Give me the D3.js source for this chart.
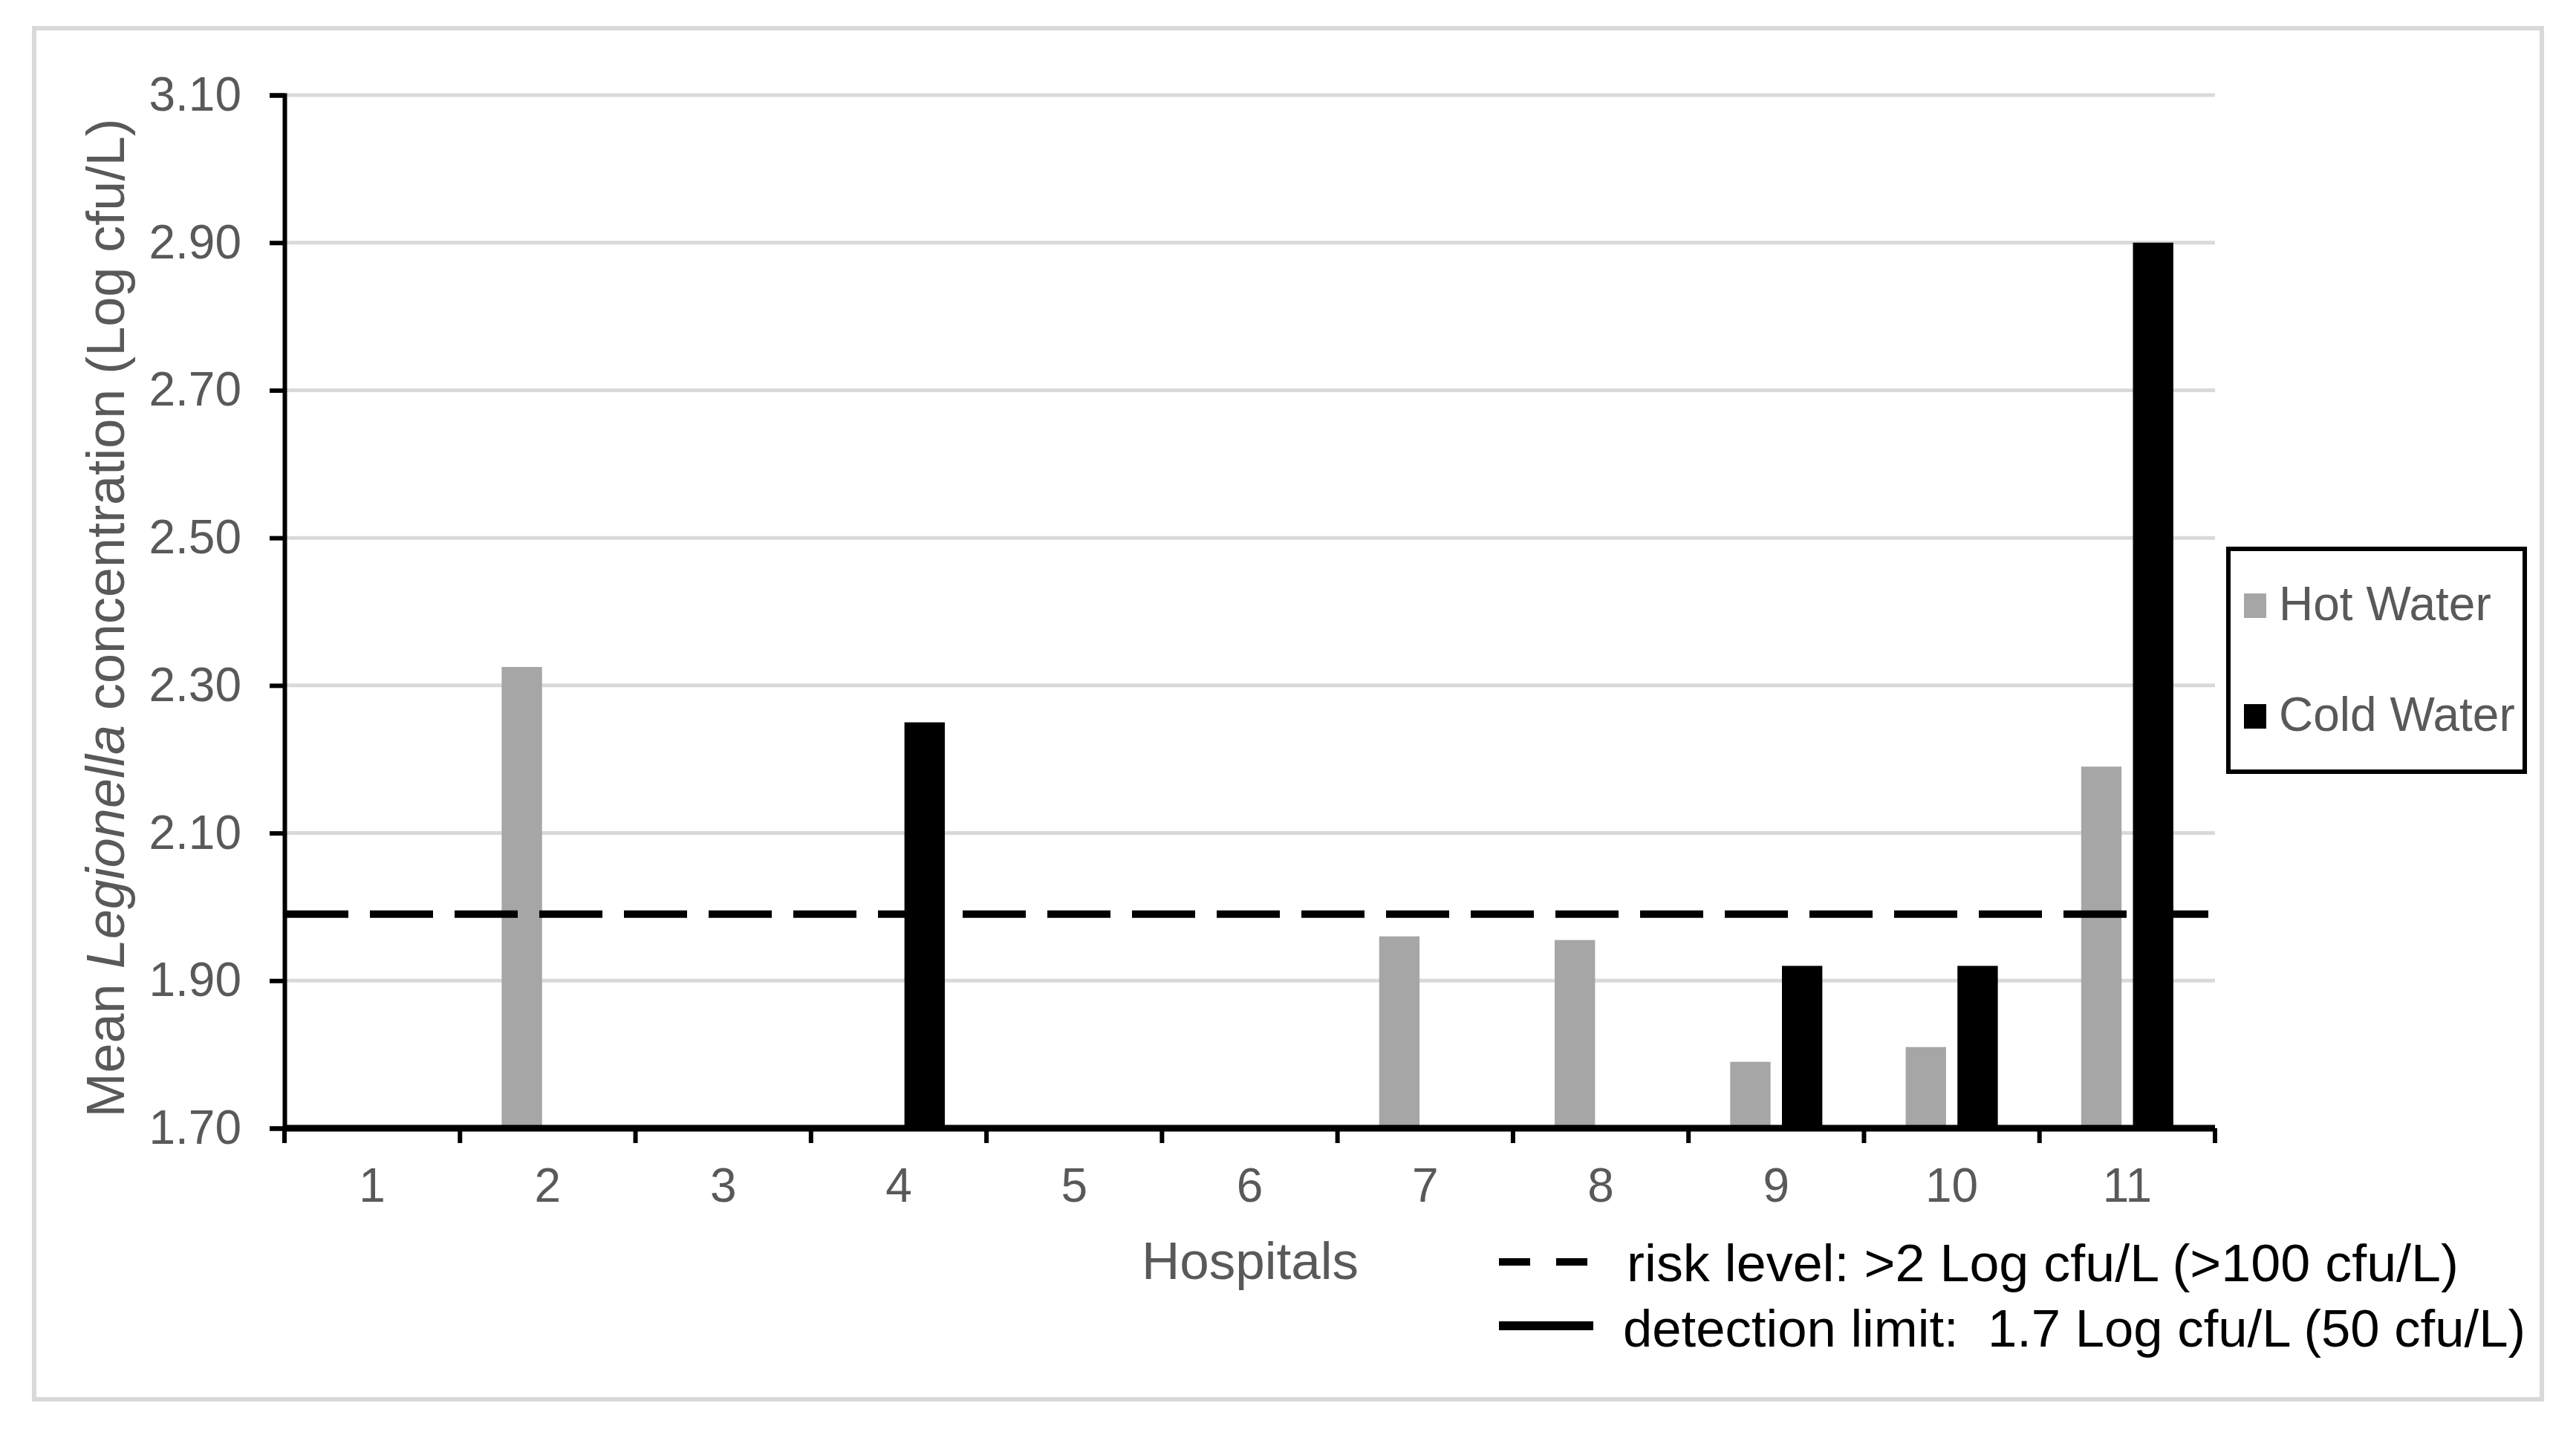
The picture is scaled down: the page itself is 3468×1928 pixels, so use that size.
<!DOCTYPE html>
<html lang="en">
    <head>
        <meta charset="utf-8">
        <title>Legionella by hospital</title>
        <script type="text/javascript" src="https://cdn.jsdelivr.net/npm/d3@7/dist/d3.min.js"></script>
        <style>
            body { margin: 0; background: #fff; }
            text { font-family: "Liberation Sans", Arial, sans-serif; }
        </style>
    </head>
    <body>
        <script type="text/javascript">

            // data
            var hospitals = ["1", "2", "3", "4", "5", "6", "7", "8", "9", "10", "11"];
            var hotWater  = [1.70, 2.325, 1.70, 1.70, 1.70, 1.70, 1.96, 1.955, 1.79, 1.81, 2.19];
            var coldWater = [1.70, 1.70, 1.70, 2.25, 1.70, 1.70, 1.70, 1.70, 1.92, 1.92, 2.90];
            var yTicks = [1.70, 1.90, 2.10, 2.30, 2.50, 2.70, 2.90, 3.10];
            var riskLevel = 1.99;
            var detectionLimit = 1.70;
            var seriesNames = ["Hot Water", "Cold Water"];
            var seriesColors = ["#a6a6a6", "#000000"];

            var w = 3468;
            var h = 1928;
            // plot area (window.top is reserved, so no plain "top")
            var plotL = 383, plotR = 2982, plotT = 128, plotB = 1519;
            var grey = "#595959";

            var svg = d3.select("body")
                .append("svg")
                .attr("width", w)
                .attr("height", h);

            // outer frame
            svg.append("rect")
                .attr("x", 46).attr("y", 38)
                .attr("width", 3376).attr("height", 1846)
                .attr("fill", "none")
                .attr("stroke", "#d9d9d9")
                .attr("stroke-width", 6);

            var y = d3.scaleLinear().domain([1.7, 3.1]).range([plotB, plotT]);

            var x0 = d3.scaleBand()
                .domain(hospitals)
                .range([plotL, plotR])
                .paddingInner(0.475)
                .paddingOuter(0.2375);

            var x1 = d3.scaleBand()
                .domain(seriesNames)
                .range([0, x0.bandwidth()])
                .paddingInner(0.22);

            // gridlines
            svg.selectAll("line.grid")
                .data(yTicks.slice(1))
                .enter()
                .append("line")
                .attr("class", "grid")
                .attr("x1", plotL).attr("x2", plotR)
                .attr("y1", function(d) { return y(d); })
                .attr("y2", function(d) { return y(d); })
                .attr("stroke", "#d9d9d9")
                .attr("stroke-width", 5);

            // bars
            var rows = hospitals.map(function(hname, i) {
                return { hospital: hname, values: [hotWater[i], coldWater[i]] };
            });

            var groups = svg.selectAll("g.group")
                .data(rows)
                .enter()
                .append("g")
                .attr("class", "group")
                .attr("transform", function(d) { return "translate(" + x0(d.hospital) + ",0)"; });

            groups.selectAll("rect")
                .data(function(d) {
                    return d.values.map(function(v, j) { return { name: seriesNames[j], value: v, color: seriesColors[j] }; });
                })
                .enter()
                .append("rect")
                .attr("x", function(d) { return x1(d.name); })
                .attr("y", function(d) { return y(d.value); })
                .attr("width", x1.bandwidth())
                .attr("height", function(d) { return y(1.7) - y(d.value); })
                .attr("fill", function(d) { return d.color; });

            // risk level line (dashed)
            svg.append("line")
                .attr("x1", plotL + 1).attr("x2", plotR - 9)
                .attr("y1", y(riskLevel)).attr("y2", y(riskLevel))
                .attr("stroke", "#000")
                .attr("stroke-width", 10)
                .attr("stroke-dasharray", "85 29");

            // detection limit line
            svg.append("line")
                .attr("x1", plotL).attr("x2", plotR)
                .attr("y1", y(detectionLimit)).attr("y2", y(detectionLimit))
                .attr("stroke", "#000")
                .attr("stroke-width", 9);

            // y axis
            var yAxis = d3.axisLeft(y)
                .tickValues(yTicks)
                .tickFormat(d3.format(".2f"))
                .tickSize(20)
                .tickPadding(38);

            var gy = svg.append("g")
                .attr("transform", "translate(" + plotL + ",0)")
                .call(yAxis);
            gy.select(".domain").attr("stroke", "#000").attr("stroke-width", 6);
            gy.selectAll(".tick line").attr("stroke", "#000").attr("stroke-width", 6);
            gy.selectAll(".tick text")
                .attr("font-size", 64)
                .attr("fill", grey)
                .attr("font-family", "Liberation Sans, Arial, sans-serif");

            // x axis: labels at band centres, ticks at band edges
            var xAxis = d3.axisBottom(x0).tickSize(0);
            var gx = svg.append("g")
                .attr("transform", "translate(0," + plotB + ")")
                .call(xAxis);
            gx.select(".domain").remove();
            gx.selectAll(".tick text")
                .attr("y", 99)
                .attr("dy", 0)
                .attr("font-size", 64)
                .attr("fill", grey)
                .attr("font-family", "Liberation Sans, Arial, sans-serif");

            var edges = hospitals.map(function(d) {
                return x0(d) - (x0.step() - x0.bandwidth()) / 2;
            });
            edges.push(plotR);
            svg.selectAll("line.xtick")
                .data(edges)
                .enter()
                .append("line")
                .attr("class", "xtick")
                .attr("x1", function(d) { return d; })
                .attr("x2", function(d) { return d; })
                .attr("y1", plotB)
                .attr("y2", plotB + 20)
                .attr("stroke", "#000")
                .attr("stroke-width", 6);

            // axis titles
            svg.append("text")
                .attr("x", 1683).attr("y", 1722)
                .attr("text-anchor", "middle")
                .attr("font-size", 71)
                .attr("fill", grey)
                .text("Hospitals");

            var yt = svg.append("text")
                .attr("transform", "translate(167,832) rotate(-90)")
                .attr("text-anchor", "middle")
                .attr("font-size", 72)
                .attr("fill", grey);
            yt.append("tspan").text("Mean ");
            yt.append("tspan").attr("font-style", "italic").text("Legionella");
            yt.append("tspan").text(" concentration (Log cfu/L)");

            // series legend
            svg.append("rect")
                .attr("x", 3000).attr("y", 739)
                .attr("width", 399).attr("height", 300)
                .attr("fill", "#fff")
                .attr("stroke", "#000")
                .attr("stroke-width", 6);

            var leg = svg.selectAll("g.leg")
                .data(seriesNames)
                .enter()
                .append("g")
                .attr("class", "leg")
                .attr("transform", function(d, i) { return "translate(3021," + (799 + i * 149) + ")"; });
            leg.append("rect")
                .attr("width", 30).attr("height", 33)
                .attr("fill", function(d, i) { return seriesColors[i]; });
            leg.append("text")
                .attr("x", 47).attr("y", 36)
                .attr("font-size", 64)
                .attr("fill", grey)
                .text(function(d) { return d; });

            // reference line legend
            svg.append("line")
                .attr("x1", 2018).attr("x2", 2137)
                .attr("y1", 1699).attr("y2", 1699)
                .attr("stroke", "#000")
                .attr("stroke-width", 10)
                .attr("stroke-dasharray", "42 35");
            svg.append("text")
                .attr("x", 2190).attr("y", 1725)
                .attr("font-size", 70)
                .attr("fill", "#000")
                .attr("textLength", 1120)
                .attr("lengthAdjust", "spacingAndGlyphs")
                .text("risk level: >2 Log cfu/L (>100 cfu/L)");

            svg.append("line")
                .attr("x1", 2018).attr("x2", 2145)
                .attr("y1", 1785).attr("y2", 1785)
                .attr("stroke", "#000")
                .attr("stroke-width", 12);
            svg.append("text")
                .attr("x", 2185).attr("y", 1813)
                .attr("font-size", 70)
                .attr("fill", "#000")
                .attr("textLength", 1215)
                .attr("lengthAdjust", "spacingAndGlyphs")
                .style("white-space", "pre")
                .text("detection limit:  1.7 Log cfu/L (50 cfu/L)");

        </script>
    </body>
</html>
